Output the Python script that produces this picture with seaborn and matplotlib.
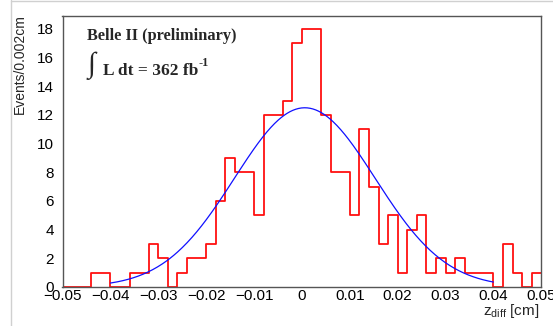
import numpy as np
import pandas as pd
import seaborn as sns
import matplotlib
matplotlib.use("Agg")
import matplotlib.pyplot as plt
from matplotlib.ticker import MultipleLocator, FixedLocator
from matplotlib.lines import Line2D

# ---- data ----
counts = [0, 0, 0, 1, 1, 0, 0, 1, 1, 3,
          2, 0, 1, 2, 2, 3, 6, 9, 8, 8,
          5, 12, 12, 13, 17, 18, 18, 12, 8, 8,
          5, 11, 7, 3, 5, 1, 4, 5, 1, 2,
          1, 2, 1, 1, 1, 0, 3, 1, 0, 1]
bin_lo, bin_hi, bin_width = -0.05, 0.05, 0.002
# Gaussian fit parameters (amplitude, mean, sigma) and fit range
fit_amp, fit_mean, fit_sigma = 12.5, 0.0006, 0.0147
fit_lo, fit_hi = -0.04, 0.04
x_ticks = [-0.05, -0.04, -0.03, -0.02, -0.01, 0, 0.01, 0.02, 0.03, 0.04, 0.05]
x_tick_labels = ["\u22120.05", "\u22120.04", "\u22120.03", "\u22120.02", "\u22120.01",
                 "0", "0.01", "0.02", "0.03", "0.04", "0.05"]
y_ticks = [0, 2, 4, 6, 8, 10, 12, 14, 16, 18]

edges = np.linspace(bin_lo, bin_hi, len(counts) + 1)
centers = 0.5 * (edges[:-1] + edges[1:])
df = pd.DataFrame({"z": centers, "n": np.asarray(counts, dtype=float)})

xs = np.linspace(fit_lo, fit_hi, 400)
fit_df = pd.DataFrame({"z": xs,
                       "f": fit_amp * np.exp(-0.5 * ((xs - fit_mean) / fit_sigma) ** 2)})

sns.set_style("white")
plt.rcParams["font.family"] = ["Liberation Sans", "DejaVu Sans"]
plt.rcParams["mathtext.fontset"] = "custom"
plt.rcParams["mathtext.rm"] = "Liberation Sans"
plt.rcParams["mathtext.it"] = "Liberation Sans:italic"
plt.rcParams["mathtext.bf"] = "Liberation Serif:bold"

W, H = 553, 326
fig = plt.figure(figsize=(W / 100, H / 100), dpi=100)
L, R, T, B = 62.5, 541.3, 16.0, 287.0
ax = fig.add_axes([L / W, 1 - B / H, (R - L) / W, (B - T) / H])

sns.histplot(data=df, x="z", weights="n", binwidth=bin_width, binrange=(bin_lo, bin_hi),
             element="step", fill=False, color="#ff1010", linewidth=1.3, ax=ax)
sns.lineplot(data=fit_df, x="z", y="f", color="#1010ff", linewidth=0.9, ax=ax)

ax.set_xlim(bin_lo, bin_hi)
ax.set_ylim(0, 18.9)
ax.set_xlabel("")
ax.set_ylabel("")

ax.xaxis.set_major_locator(FixedLocator(x_ticks))
ax.set_xticklabels(x_tick_labels)
ax.xaxis.set_minor_locator(MultipleLocator(0.002))
ax.yaxis.set_major_locator(FixedLocator(y_ticks))
ax.yaxis.set_minor_locator(MultipleLocator(0.5))

ax.tick_params(which="both", direction="in", top=False, right=False,
               color="#333333", width=0.8, labelsize=11, labelcolor="black")
ax.tick_params(which="major", length=9)
ax.tick_params(which="minor", length=4.5)
ax.tick_params(axis="x", which="major", pad=1.2)
ax.tick_params(axis="y", which="major", pad=6)

for s in ax.spines.values():
    s.set_color("#555555")
    s.set_linewidth(1.0)

# axis titles (ROOT style)
fig.text(20 / W, 1 - 14 / H, "Events/0.002cm", rotation=90, ha="center", va="top",
         fontsize=10)
fig.text(539 / W, 1 - 315 / H, r"z$_{\rm diff}$ [cm]", ha="right", va="baseline",
         fontsize=11)

# annotations
serif = ["Liberation Serif", "DejaVu Serif"]
fig.text(87 / W, 1 - 40 / H, "Belle II (preliminary)", ha="left", va="baseline",
         fontsize=11.8, fontweight="bold", family=serif)
fig.text(88 / W, 1 - 72 / H, "\u222b", ha="left", va="baseline",
         fontsize=21, family=serif)
lumi = fig.text(103 / W, 1 - 75 / H, "L dt = 362 fb", ha="left", va="baseline",
                fontsize=12.5, fontweight="bold", family=serif)
fig.canvas.draw()
ext = lumi.get_window_extent(renderer=fig.canvas.get_renderer())
fig.text((ext.x1 + 0.5) / W, 1 - 66 / H, "-1", ha="left", va="baseline",
         fontsize=8.8, fontweight="bold", family=serif)

# light frame lines of the screenshot
fig.add_artist(Line2D([11 / W, 11 / W], [0, 1], color="#d0d0d0", lw=1))
fig.add_artist(Line2D([11 / W, 1], [1 - 0.5 / H, 1 - 0.5 / H], color="#d0d0d0", lw=1))

fig.savefig("out.png", dpi=100)
